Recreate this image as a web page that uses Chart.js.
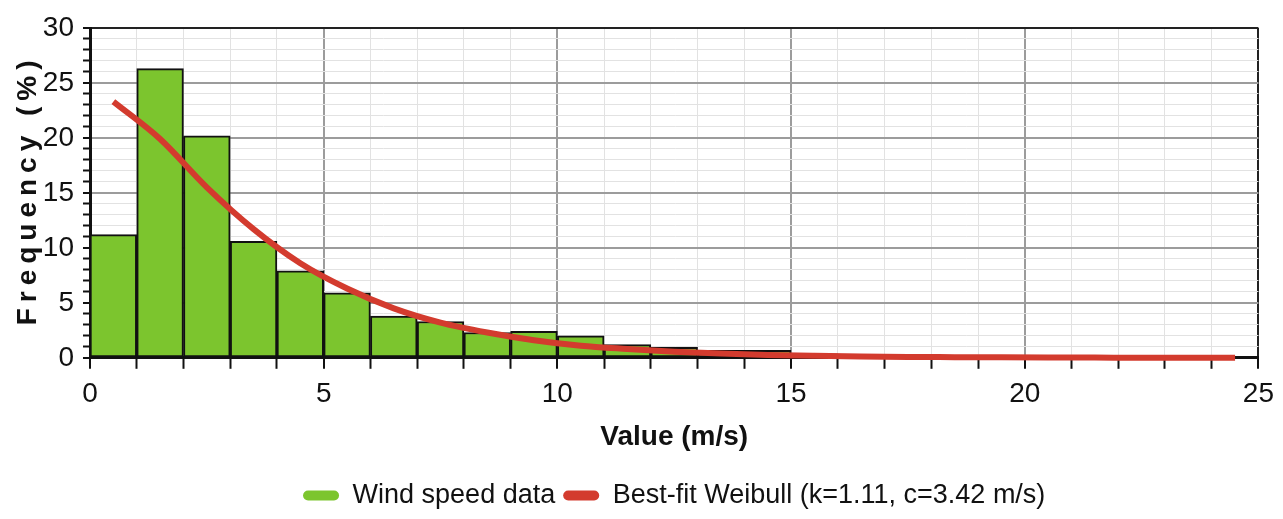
<!DOCTYPE html>
<html>
<head>
  <meta charset="utf-8">
  <title>Wind speed histogram</title>
  <script src="https://cdn.jsdelivr.net/npm/chart.js@4.4.0/dist/chart.umd.min.js"></script>
  <style>
    body { margin: 0; background: #fff; }
    #wrap { width: 1283px; height: 519px; }
  </style>
</head>
<body>
  <div id="wrap"><canvas id="windChart" width="1283" height="519"></canvas></div>

  <script>
    // histogram bins (m/s), bin centres and frequency (%)
    const binCentres = [0.5, 1.5, 2.5, 3.5, 4.5, 5.5, 6.5, 7.5, 8.5, 9.5, 10.5, 11.5, 12.5, 13.5, 14.5, 15.5];
    const windFreq   = [11.2, 26.3, 20.2, 10.6, 7.9, 5.9, 3.8, 3.3, 2.3, 2.4, 2.0, 1.2, 0.95, 0.67, 0.67, 0.35];

    // best-fit weibull curve, at bin centres
    const fitX = [0.5, 1.5, 2.5, 3.5, 4.5, 5.5, 6.5, 7.5, 8.5, 9.5, 10.5, 11.5, 12.5,
                  13.5, 14.5, 15.5, 16.5, 17.5, 18.5, 19.5, 20.5, 21.5, 22.5, 23.5, 24.5];
    const fitY = [23.3, 19.9, 15.5, 11.7, 8.6, 6.3, 4.5, 3.2, 2.3, 1.6, 1.1, 0.8, 0.55,
                  0.38, 0.26, 0.18, 0.12, 0.08, 0.06, 0.04, 0.03, 0.02, 0.01, 0.01, 0.01];

    const xTicks = [0, 5, 10, 15, 20, 25];
    const yTicks = [0, 5, 10, 15, 20, 25, 30];

    const sans = "'Liberation Sans', Arial, sans-serif";

    function gridColour(ctx, majors, max) {
      const v = ctx.tick.value;
      if (v === max) return '#222';
      if (majors.includes(v)) return '#9c9c9c';
      return '#e2e2e2';
    }
    function gridWidth(ctx, majors) {
      return majors.includes(ctx.tick.value) ? 2 : 1;
    }

    // y title with wide letter spacing like the original
    const yTitlePlugin = {
      id: 'yTitle',
      afterDraw(chart) {
        const ctx = chart.ctx;
        const area = chart.chartArea;
        ctx.save();
        ctx.translate(28, (area.top + area.bottom) / 2);
        ctx.rotate(-Math.PI / 2);
        ctx.font = "bold 28px " + sans;
        ctx.letterSpacing = '6px';
        ctx.fillStyle = '#111';
        ctx.textAlign = 'center';
        ctx.textBaseline = 'middle';
        ctx.fillText('Frequency (%)', 3, 0);
        ctx.restore();
      }
    };

    const windData = binCentres.map((x, i) => ({ x: x, y: windFreq[i] }));
    const fitData = fitX.map((x, i) => ({ x: x, y: fitY[i] }));

    new Chart(document.getElementById('windChart'), {
      type: 'bar',
      data: {
        datasets: [
          {
            type: 'line',
            label: 'Best-fit Weibull (k=1.11, c=3.42 m/s)',
            data: fitData,
            borderColor: '#d33b2e',
            backgroundColor: '#d33b2e',
            borderWidth: 6,
            pointRadius: 0,
            cubicInterpolationMode: 'monotone',
            clip: false
          },
          {
            type: 'bar',
            label: 'Wind speed data',
            data: windData,
            backgroundColor: '#7cc52e',
            borderColor: '#111',
            borderWidth: 2,
            borderSkipped: false,
            barPercentage: 1,
            categoryPercentage: 1
          }
        ]
      },
      options: {
        responsive: false,
        animation: false,
        devicePixelRatio: 1,
        layout: { padding: { left: 0, right: 23, top: 28, bottom: 0 } },
        plugins: {
          tooltip: { enabled: false },
          legend: {
            position: 'bottom',
            fullSize: false,
            labels: {
              font: { family: sans, size: 27 },
              color: '#111',
              boxWidth: 36,
              boxHeight: 10,
              useBorderRadius: true,
              borderRadius: 5,
              padding: 8,
              sort: (a, b) => b.datasetIndex - a.datasetIndex,
              generateLabels(chart) {
                const items = Chart.defaults.plugins.legend.labels.generateLabels(chart);
                items.forEach(it => { it.strokeStyle = it.fillStyle; it.lineWidth = 0; });
                return items;
              }
            }
          }
        },
        scales: {
          x: {
            type: 'linear',
            min: 0,
            max: 25,
            offset: false,
            afterBuildTicks(scale) {
              scale.ticks = [];
              for (let v = 0; v <= 25; v++) scale.ticks.push({ value: v });
            },
            ticks: {
              autoSkip: false,
              maxRotation: 0,
              padding: 9,
              color: '#111',
              font: { family: sans, size: 28 },
              callback: v => xTicks.includes(v) ? String(v) : ''
            },
            grid: {
              offset: false,
              color: c => gridColour(c, xTicks, 25),
              lineWidth: c => gridWidth(c, xTicks),
              tickColor: '#111',
              tickWidth: 2,
              tickLength: 11
            },
            border: { color: '#111', width: 3 },
            title: {
              display: true,
              text: 'Value (m/s)',
              color: '#111',
              font: { family: sans, size: 28, weight: 'bold' },
              padding: { top: 0, bottom: 20 }
            }
          },
          y: {
            min: 0,
            max: 30,
            afterBuildTicks(scale) {
              scale.ticks = [];
              for (let v = 0; v <= 30; v++) scale.ticks.push({ value: v });
            },
            afterFit(scale) { scale.width = 90; },
            ticks: {
              autoSkip: false,
              padding: 9,
              color: '#111',
              font: { family: sans, size: 28 },
              callback: v => yTicks.includes(v) ? String(v) : ''
            },
            grid: {
              color: c => gridColour(c, yTicks, 30),
              lineWidth: c => gridWidth(c, yTicks),
              tickColor: '#111',
              tickWidth: 2,
              tickLength: 7
            },
            border: { color: '#111', width: 3 }
          }
        }
      },
      plugins: [yTitlePlugin]
    });
  </script>
</body>
</html>
